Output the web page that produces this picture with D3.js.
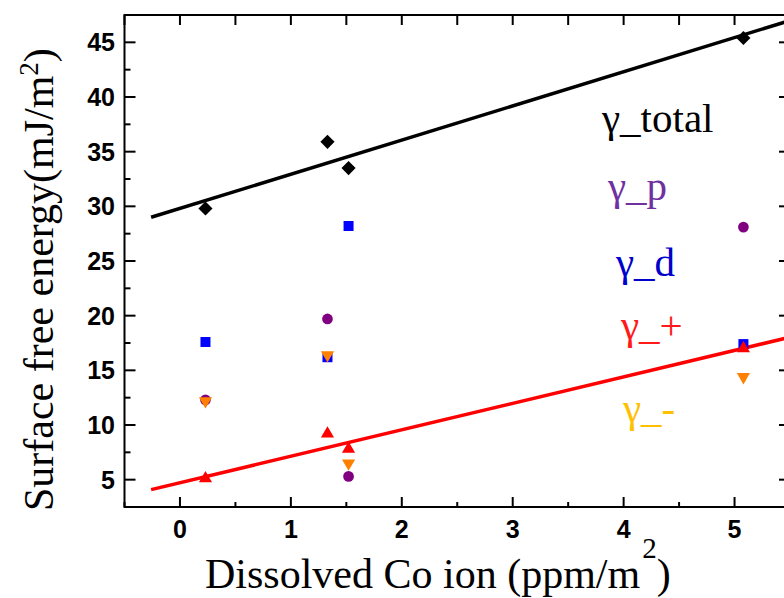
<!DOCTYPE html>
<html>
<head>
  <meta charset="UTF-8">
  <script src="https://d3js.org/d3.v7.min.js"></script>
  <style>
    svg text.serif, svg text.serif tspan { font-family: "Liberation Serif", "Times New Roman", Times, serif !important; }
    svg text.num { font-family: "Liberation Sans", Arial, sans-serif !important; font-weight: bold; }
  </style>
</head>
<body style="margin:0">
  <svg width="784" height="598"></svg>

  <script>
    // data
    const coIon = [0.23, 1.33, 1.52, 5.08];
    const gammaTotal = [29.8, 35.9, 33.5, 45.4];
    const gammaP = [12.3, 19.7, 5.3, 28.1];
    const gammaD = [17.6, 16.2, 28.2, 17.4];
    const gammaPlus = [5.1, 9.2, 7.8, 17.0];
    const gammaMinus = [12.2, 16.4, 6.5, 14.4];

    // linear fits (end points)
    const fitX = [-0.26, 5.5];
    const fitTotal = [29.0, 47.0];
    const fitPlus = [4.09, 18.03];

    const xTicks = [0, 1, 2, 3, 4, 5];
    const yTicks = [5, 10, 15, 20, 25, 30, 35, 40, 45];

    const legendItems = [
      { label: "γ_total", color: "#000000", x: 602, y: 132 },
      { label: "γ_p", color: "#7030a0", x: 608, y: 200 },
      { label: "γ_d", color: "#0000cc", x: 616, y: 276 },
      { label: "γ_+", color: "#ff1a1a", x: 621, y: 339 },
      { label: "γ_-", color: "#ffc000", x: 623, y: 422 }
    ];

    const serifFamily = '"Liberation Serif", "Times New Roman", Times, serif';

    const svg = d3.select("svg");

    const x = d3.scaleLinear().domain([-0.5, 5.5]).range([124.5, 790]);
    const y = d3.scaleLinear().domain([2.5, 47.5]).range([507, 15]);

    svg.append("defs").append("clipPath").attr("id", "plot")
      .append("rect")
      .attr("x", x(-0.5)).attr("y", y(47.5))
      .attr("width", x(5.5) - x(-0.5)).attr("height", y(2.5) - y(47.5));

    // frame
    const frame = svg.append("g").attr("stroke", "#000").attr("stroke-width", 2).attr("fill", "none");
    frame.append("rect")
      .attr("x", x(-0.5)).attr("y", y(47.5))
      .attr("width", x(5.5) - x(-0.5)).attr("height", y(2.5) - y(47.5));

    // x ticks (bottom and top, inward)
    d3.range(-0.5, 5.51, 0.5).forEach(v => {
      const major = Math.abs(v - Math.round(v)) < 1e-6;
      frame.append("line")
        .attr("x1", x(v)).attr("x2", x(v))
        .attr("y1", y(2.5)).attr("y2", y(2.5) - (major ? 10 : 5));
      frame.append("line")
        .attr("x1", x(v)).attr("x2", x(v))
        .attr("y1", y(47.5)).attr("y2", y(47.5) + 10);
    });

    // y ticks (left and right, inward)
    d3.range(2.5, 47.51, 2.5).forEach(v => {
      const major = Math.abs(v / 5 - Math.round(v / 5)) < 1e-6;
      const len = major ? 11 : 6;
      frame.append("line")
        .attr("x1", x(-0.5)).attr("x2", x(-0.5) + len)
        .attr("y1", y(v)).attr("y2", y(v));
      frame.append("line")
        .attr("x1", x(5.5)).attr("x2", x(5.5) - len)
        .attr("y1", y(v)).attr("y2", y(v));
    });

    // tick labels
    svg.append("g").selectAll("text").data(xTicks).enter().append("text")
      .attr("class", "num").attr("font-size", 25)
      .attr("x", d => x(d)).attr("y", 538)
      .attr("text-anchor", "middle")
      .text(d => d);

    svg.append("g").selectAll("text").data(yTicks).enter().append("text")
      .attr("class", "num").attr("font-size", 25)
      .attr("x", 115).attr("y", d => y(d)).attr("dy", "0.36em")
      .attr("text-anchor", "end")
      .text(d => d);

    // serif texts: axis titles and legend
    function serifText(sel) {
      sel.attr("class", "serif").attr("font-family", serifFamily);
      sel.each(function () { this.style.setProperty("font-family", serifFamily, "important"); });
      return sel;
    }

    const xt = serifText(svg.append("text"))
      .attr("font-size", 42)
      .attr("x", 205).attr("y", 588);
    xt.append("tspan").text("Dissolved Co ion (ppm/m");
    xt.append("tspan").attr("dx", 2).attr("dy", -30).attr("font-size", 29).text("2");
    xt.append("tspan").attr("dy", 30).text(")");

    const yt = serifText(svg.append("text"))
      .attr("font-size", 42)
      .attr("transform", "translate(53,511) rotate(-90)");
    yt.append("tspan").text("Surface free energy(mJ/m");
    yt.append("tspan").attr("dy", -15).attr("font-size", 27).text("2");
    yt.append("tspan").attr("dy", 15).text(")");

    // fit lines
    const plot = svg.append("g").attr("clip-path", "url(#plot)");
    const line = d3.line().x(d => x(d[0])).y(d => y(d[1]));
    plot.append("path")
      .attr("d", line(d3.zip(fitX, fitTotal)))
      .attr("stroke", "#000").attr("stroke-width", 3.5).attr("fill", "none");
    plot.append("path")
      .attr("d", line(d3.zip(fitX, fitPlus)))
      .attr("stroke", "#ff0000").attr("stroke-width", 3.5).attr("fill", "none");

    // markers
    const series = [
      { values: gammaTotal, shape: d3.symbolSquare, size: 100, rotate: 45, color: "#000000" },
      { values: gammaP, shape: d3.symbolCircle, size: 90, rotate: 0, color: "#800080" },
      { values: gammaD, shape: d3.symbolSquare, size: 100, rotate: 0, color: "#0000ff" },
      { values: gammaPlus, shape: d3.symbolTriangle, size: 75, rotate: 0, color: "#ff0000" },
      { values: gammaMinus, shape: d3.symbolTriangle, size: 75, rotate: 180, color: "#ff8000" }
    ];

    series.forEach(s => {
      plot.append("g").selectAll("path")
        .data(d3.zip(coIon, s.values)).enter().append("path")
        .attr("d", d3.symbol().type(s.shape).size(s.size))
        .attr("transform", d => `translate(${x(d[0])},${y(d[1])}) rotate(${s.rotate})`)
        .attr("fill", s.color);
    });

    // legend texts
    serifText(svg.append("g").selectAll("text").data(legendItems).enter().append("text"))
      .attr("font-size", 41)
      .attr("x", d => d.x).attr("y", d => d.y)
      .attr("fill", d => d.color)
      .text(d => d.label);
  </script>
</body>
</html>
